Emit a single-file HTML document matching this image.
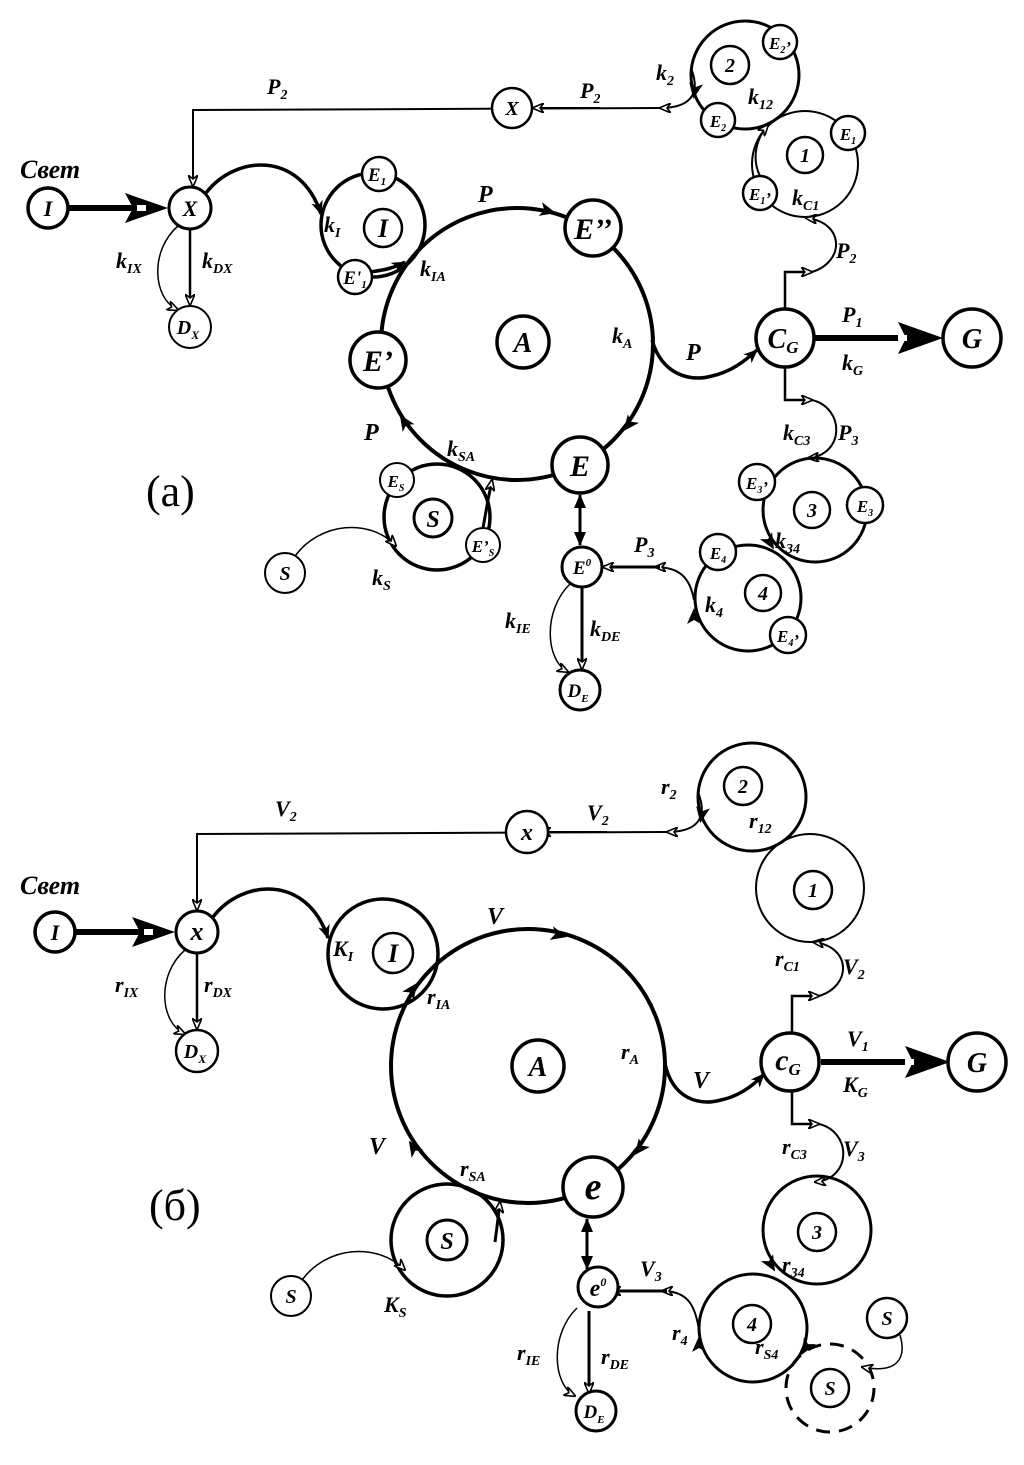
<!DOCTYPE html>
<html><head><meta charset="utf-8"><style>
html,body{margin:0;padding:0;background:#fff;}
svg{display:block;}
text{font-family:"Liberation Serif",serif;font-weight:bold;font-style:italic;fill:#000;}
.n{text-anchor:middle;}
.r{font-weight:normal;font-style:normal;}
</style></head><body>
<svg width="1024" height="1465" viewBox="0 0 1024 1465" xmlns="http://www.w3.org/2000/svg">
<defs>
<marker id="oa" viewBox="0 0 12 10" refX="11" refY="5" markerWidth="12" markerHeight="10" markerUnits="userSpaceOnUse" orient="auto"><path d="M0,0 L12,5 L0,10 L4,5 Z" fill="#fff" stroke="#000" stroke-width="1.6"/></marker>
<marker id="fa" viewBox="0 0 14 12" refX="13" refY="6" markerWidth="14" markerHeight="12" markerUnits="userSpaceOnUse" orient="auto"><path d="M0,0 L14,6 L0,12 L4,6 Z" fill="#000"/></marker>
<marker id="fs" viewBox="0 0 14 12" refX="13" refY="6" markerWidth="14" markerHeight="12" markerUnits="userSpaceOnUse" orient="auto-start-reverse"><path d="M0,0 L14,6 L0,12 Z" fill="#000"/></marker>
<g id="tri"><path d="M-12,-7 L4,0 L-12,7 L-8,0 Z" fill="#000"/></g>
</defs>

<!-- ================= (a) ================= -->
<g fill="none" stroke="#000">
<line x1="68" y1="208" x2="140" y2="208" stroke-width="6"/>
<path d="M125,193 L168,208 L125,223 L133,208 Z" fill="#000" stroke="none"/>
<rect x="137" y="205" width="9" height="6" fill="#fff" stroke="none"/>
<path d="M660,108 L193,110 L193,186" stroke-width="2" marker-end="url(#oa)"/>
<line x1="600" y1="108" x2="533" y2="108" stroke-width="2" marker-end="url(#oa)"/>
<path d="M691,68 C702,96 688,108 660,108" stroke-width="2" marker-end="url(#oa)"/>
<path d="M206,193 C235,155 300,150 321,214" stroke-width="3.5" marker-end="url(#fa)"/>
<line x1="190" y1="229" x2="190" y2="305" stroke-width="2.5" marker-end="url(#oa)"/>
<path d="M178,226 C150,250 152,298 178,310" stroke-width="1.5" marker-end="url(#oa)"/>
<circle cx="373" cy="225" r="52" stroke-width="3.5"/>
<path d="M370,272 C385,270 394,268 405,262" stroke-width="3.5" marker-end="url(#fa)"/>
<circle cx="517" cy="344" r="136" stroke-width="4"/>
<path d="M652,340 C662,375 690,382 712,376 C730,372 744,362 757,350" stroke-width="3.5" marker-end="url(#fa)"/>
<line x1="814" y1="338" x2="905" y2="338" stroke-width="6"/>
<path d="M898,322 L943,338 L898,354 L906,338 Z" fill="#000" stroke="none"/>
<rect x="898" y="335" width="9" height="6" fill="#fff" stroke="none"/>
<path d="M785,309 L785,272 L812,272" stroke-width="2.5" marker-end="url(#oa)"/>
<path d="M812,272 C845,262 845,222 806,218" stroke-width="2" marker-end="url(#oa)"/>
<path d="M785,367 L785,400 L812,400" stroke-width="2.5" marker-end="url(#oa)"/>
<path d="M812,400 C845,408 845,455 808,458" stroke-width="2" marker-end="url(#oa)"/>
<circle cx="745" cy="75" r="54" stroke-width="3"/>
<circle cx="805" cy="164" r="53" stroke-width="2"/>
<path d="M760,176 C752,160 755,140 768,125" stroke-width="2" marker-end="url(#oa)"/>
<circle cx="815" cy="510" r="52" stroke-width="3"/>
<circle cx="748" cy="598" r="53" stroke-width="3"/>
<path d="M694,600 C690,578 680,567 655,567" stroke-width="2" marker-end="url(#oa)"/>
<line x1="660" y1="567" x2="603" y2="567" stroke-width="3" marker-end="url(#oa)"/>
<line x1="580" y1="495" x2="580" y2="545" stroke-width="3" marker-start="url(#fs)" marker-end="url(#fs)"/>
<line x1="582" y1="587" x2="582" y2="669" stroke-width="3" marker-end="url(#oa)"/>
<path d="M570,584 C543,610 545,660 568,672" stroke-width="1.5" marker-end="url(#oa)"/>
<circle cx="437" cy="517" r="53" stroke-width="3.5"/>
<path d="M295,556 C320,522 370,518 396,546" stroke-width="1.5" marker-end="url(#oa)"/>
<path d="M483,528 L488,500 L492,480" stroke-width="3" marker-end="url(#oa)"/>
</g>
<use href="#tri" transform="translate(552,212) rotate(14)"/>
<use href="#tri" transform="translate(626,428) rotate(128)"/>
<use href="#tri" transform="translate(402,418) rotate(-123)"/>
<use href="#tri" transform="translate(694,95) rotate(100)"/>
<use href="#tri" transform="translate(772,546) rotate(60)"/>
<use href="#tri" transform="translate(694,612) rotate(-90)"/>

<g fill="#fff" stroke="#000">
<circle cx="48" cy="208" r="20" stroke-width="3.5"/>
<circle cx="190" cy="208" r="21" stroke-width="3"/>
<circle cx="190" cy="327" r="21" stroke-width="2"/>
<circle cx="512" cy="108" r="20" stroke-width="2.5"/>
<circle cx="379" cy="174" r="17" stroke-width="2.5"/>
<circle cx="355" cy="277" r="17" stroke-width="2.5"/>
<circle cx="383" cy="228" r="19" stroke-width="2.5"/>
<circle cx="593" cy="228" r="28" stroke-width="3.5"/>
<circle cx="378" cy="360" r="28" stroke-width="3.5"/>
<circle cx="580" cy="465" r="28" stroke-width="3.5"/>
<circle cx="523" cy="342" r="26" stroke-width="3.5"/>
<circle cx="397" cy="480" r="17" stroke-width="2"/>
<circle cx="483" cy="545" r="17" stroke-width="2"/>
<circle cx="433" cy="518" r="19" stroke-width="3"/>
<circle cx="285" cy="573" r="20" stroke-width="2"/>
<circle cx="582" cy="567" r="20" stroke-width="3"/>
<circle cx="580" cy="690" r="20" stroke-width="3"/>
<circle cx="730" cy="65" r="19" stroke-width="2.5"/>
<circle cx="780" cy="42" r="17" stroke-width="2.5"/>
<circle cx="718" cy="120" r="17" stroke-width="2.5"/>
<circle cx="805" cy="155" r="18" stroke-width="2.5"/>
<circle cx="848" cy="133" r="17" stroke-width="2.5"/>
<circle cx="760" cy="193" r="17" stroke-width="2.5"/>
<circle cx="785" cy="338" r="29" stroke-width="3.5"/>
<circle cx="972" cy="338" r="29" stroke-width="3.5"/>
<circle cx="812" cy="510" r="18" stroke-width="2.5"/>
<circle cx="757" cy="482" r="18" stroke-width="2.5"/>
<circle cx="865" cy="505" r="18" stroke-width="2.5"/>
<circle cx="763" cy="593" r="18" stroke-width="2.5"/>
<circle cx="718" cy="552" r="18" stroke-width="2.5"/>
<circle cx="788" cy="635" r="18" stroke-width="2.5"/>
</g>
<g class="n">
<text x="48" y="216" font-size="22" class="n">I</text>
<text x="190" y="216" font-size="22" class="n">X</text>
<text x="188" y="334" font-size="20" class="n">D<tspan font-size="12" dy="5">X</tspan></text>
<text x="512" y="115" font-size="20" class="n">X</text>
<text x="377" y="181" font-size="19" class="n">E<tspan font-size="11" dy="4">1</tspan></text>
<text x="355" y="284" font-size="19" class="n">E'<tspan font-size="11" dy="4">1</tspan></text>
<text x="383" y="237" font-size="26" class="n">I</text>
<text x="593" y="239" font-size="30" class="n">E’’</text>
<text x="378" y="371" font-size="30" class="n">E’</text>
<text x="580" y="476" font-size="30" class="n">E</text>
<text x="523" y="352" font-size="28" class="n">A</text>
<text x="396" y="487" font-size="17" class="n">E<tspan font-size="10" dy="4">S</tspan></text>
<text x="483" y="552" font-size="17" class="n">E’<tspan font-size="10" dy="4">S</tspan></text>
<text x="433" y="527" font-size="24" class="n">S</text>
<text x="285" y="580" font-size="20" class="n">S</text>
<text x="582" y="574" font-size="19" class="n">E<tspan font-size="11" dy="-8">0</tspan></text>
<text x="578" y="697" font-size="19" class="n">D<tspan font-size="11" dy="5">E</tspan></text>
<text x="730" y="72" font-size="20" class="n">2</text>
<text x="780" y="49" font-size="17" class="n">E<tspan font-size="10" dy="4">2</tspan>’</text>
<text x="718" y="127" font-size="17" class="n">E<tspan font-size="10" dy="4">2</tspan></text>
<text x="805" y="162" font-size="20" class="n">1</text>
<text x="848" y="140" font-size="17" class="n">E<tspan font-size="10" dy="4">1</tspan></text>
<text x="760" y="200" font-size="17" class="n">E<tspan font-size="10" dy="4">1</tspan>’</text>
<text x="783" y="348" font-size="28" class="n">C<tspan font-size="17" dy="5">G</tspan></text>
<text x="972" y="348" font-size="28" class="n">G</text>
<text x="812" y="517" font-size="20" class="n">3</text>
<text x="757" y="489" font-size="17" class="n">E<tspan font-size="10" dy="4">3</tspan>’</text>
<text x="865" y="512" font-size="17" class="n">E<tspan font-size="10" dy="4">3</tspan></text>
<text x="763" y="600" font-size="20" class="n">4</text>
<text x="718" y="559" font-size="17" class="n">E<tspan font-size="10" dy="4">4</tspan></text>
<text x="788" y="642" font-size="17" class="n">E<tspan font-size="10" dy="4">4</tspan>’</text>
</g>
<text x="20" y="178" font-size="26">Свет</text>
<text x="267" y="94" font-size="22">P<tspan font-size="14" dy="5">2</tspan></text>
<text x="580" y="98" font-size="22">P<tspan font-size="14" dy="5">2</tspan></text>
<text x="656" y="80" font-size="22">k<tspan font-size="14" dy="5">2</tspan></text>
<text x="748" y="104" font-size="22">k<tspan font-size="14" dy="5">12</tspan></text>
<text x="792" y="205" font-size="22">k<tspan font-size="14" dy="5">C1</tspan></text>
<text x="836" y="258" font-size="22">P<tspan font-size="14" dy="5">2</tspan></text>
<text x="116" y="268" font-size="22">k<tspan font-size="14" dy="5">IX</tspan></text>
<text x="202" y="268" font-size="22">k<tspan font-size="14" dy="5">DX</tspan></text>
<text x="324" y="232" font-size="22">k<tspan font-size="14" dy="5">I</tspan></text>
<text x="420" y="276" font-size="22">k<tspan font-size="14" dy="5">IA</tspan></text>
<text x="478" y="202" font-size="24">P</text>
<text x="612" y="343" font-size="22">k<tspan font-size="14" dy="5">A</tspan></text>
<text x="686" y="360" font-size="24">P</text>
<text x="842" y="322" font-size="22">P<tspan font-size="14" dy="5">1</tspan></text>
<text x="842" y="370" font-size="22">k<tspan font-size="14" dy="5">G</tspan></text>
<text x="364" y="440" font-size="24">P</text>
<text x="447" y="456" font-size="22">k<tspan font-size="14" dy="5">SA</tspan></text>
<text x="372" y="585" font-size="22">k<tspan font-size="14" dy="5">S</tspan></text>
<text x="634" y="552" font-size="22">P<tspan font-size="14" dy="5">3</tspan></text>
<text x="505" y="628" font-size="22">k<tspan font-size="14" dy="5">IE</tspan></text>
<text x="590" y="636" font-size="22">k<tspan font-size="14" dy="5">DE</tspan></text>
<text x="705" y="612" font-size="22">k<tspan font-size="14" dy="5">4</tspan></text>
<text x="775" y="548" font-size="22">k<tspan font-size="14" dy="5">34</tspan></text>
<text x="783" y="440" font-size="22">k<tspan font-size="14" dy="5">C3</tspan></text>
<text x="838" y="440" font-size="22">P<tspan font-size="14" dy="5">3</tspan></text>
<text x="146" y="506" font-size="44" class="r">(a)</text>

<!-- ================= (б) ================= -->
<g transform="translate(7,724)">
<g fill="none" stroke="#000">
<line x1="68" y1="208" x2="140" y2="208" stroke-width="6"/>
<path d="M125,193 L168,208 L125,223 L133,208 Z" fill="#000" stroke="none"/>
<rect x="137" y="205" width="9" height="6" fill="#fff" stroke="none"/>
<path d="M660,108 L190,110 L190,186" stroke-width="2" marker-end="url(#oa)"/>
<line x1="600" y1="108" x2="533" y2="108" stroke-width="2" marker-end="url(#oa)"/>
<path d="M691,68 C702,96 688,108 660,108" stroke-width="2" marker-end="url(#oa)"/>
<path d="M206,193 C235,155 300,150 321,214" stroke-width="3.5" marker-end="url(#fa)"/>
<line x1="190" y1="229" x2="190" y2="305" stroke-width="2.5" marker-end="url(#oa)"/>
<path d="M178,226 C150,250 152,298 178,310" stroke-width="1.5" marker-end="url(#oa)"/>
<circle cx="376" cy="230" r="55" stroke-width="3.5"/>
<circle cx="521" cy="342" r="137" stroke-width="4"/>
<path d="M658,340 C666,375 692,382 714,376 C732,372 746,362 757,350" stroke-width="3.5" marker-end="url(#fa)"/>
<line x1="814" y1="338" x2="905" y2="338" stroke-width="6"/>
<path d="M898,322 L943,338 L898,354 L906,338 Z" fill="#000" stroke="none"/>
<rect x="898" y="335" width="9" height="6" fill="#fff" stroke="none"/>
<path d="M785,309 L785,272 L812,272" stroke-width="2.5" marker-end="url(#oa)"/>
<path d="M812,272 C845,262 845,222 806,218" stroke-width="2" marker-end="url(#oa)"/>
<path d="M785,367 L785,400 L812,400" stroke-width="2.5" marker-end="url(#oa)"/>
<path d="M812,400 C845,408 845,455 808,458" stroke-width="2" marker-end="url(#oa)"/>
<circle cx="745" cy="73" r="54" stroke-width="3"/>
<circle cx="803" cy="164" r="54" stroke-width="2"/>
<circle cx="810" cy="506" r="54" stroke-width="3"/>
<circle cx="746" cy="604" r="54" stroke-width="3"/>
<path d="M692,606 C688,580 680,567 655,567" stroke-width="2" marker-end="url(#oa)"/>
<line x1="660" y1="567" x2="603" y2="567" stroke-width="3" marker-end="url(#oa)"/>
<line x1="580" y1="495" x2="580" y2="545" stroke-width="3" marker-start="url(#fs)" marker-end="url(#fs)"/>
<line x1="582" y1="587" x2="582" y2="669" stroke-width="3" marker-end="url(#oa)"/>
<path d="M570,584 C543,610 545,660 568,672" stroke-width="1.5" marker-end="url(#oa)"/>
<circle cx="440" cy="516" r="56" stroke-width="3.5"/>
<path d="M295,556 C320,522 370,518 398,546" stroke-width="1.5" marker-end="url(#oa)"/>
<path d="M488,518 L491,495 L493,478" stroke-width="3" marker-end="url(#oa)"/>
<circle cx="823" cy="664" r="44" stroke-width="3" stroke-dasharray="14,9"/>
<path d="M893,611 C900,635 890,650 855,643" stroke-width="1.5" marker-end="url(#oa)"/>
</g>
<use href="#tri" transform="translate(556,212) rotate(14)"/>
<use href="#tri" transform="translate(630,428) rotate(128)"/>
<use href="#tri" transform="translate(404,420) rotate(-123)"/>
<use href="#tri" transform="translate(408,262) rotate(-54)"/>
<use href="#tri" transform="translate(694,95) rotate(100)"/>
<use href="#tri" transform="translate(766,544) rotate(60)"/>
<use href="#tri" transform="translate(692,616) rotate(-90)"/>
<use href="#tri" transform="translate(797,627) rotate(120)"/>
<g fill="#fff" stroke="#000">
<circle cx="48" cy="208" r="20" stroke-width="3.5"/>
<circle cx="190" cy="208" r="21" stroke-width="3"/>
<circle cx="190" cy="327" r="21" stroke-width="2.5"/>
<circle cx="520" cy="108" r="21" stroke-width="2.5"/>
<circle cx="386" cy="229" r="20" stroke-width="2.5"/>
<circle cx="531" cy="342" r="26" stroke-width="3.5"/>
<circle cx="586" cy="463" r="30" stroke-width="3.5"/>
<circle cx="440" cy="516" r="20" stroke-width="3"/>
<circle cx="284" cy="572" r="20" stroke-width="2"/>
<circle cx="591" cy="563" r="20" stroke-width="3"/>
<circle cx="589" cy="687" r="20" stroke-width="3"/>
<circle cx="736" cy="62" r="19" stroke-width="2.5"/>
<circle cx="806" cy="166" r="19" stroke-width="2.5"/>
<circle cx="783" cy="338" r="29" stroke-width="3.5"/>
<circle cx="970" cy="338" r="29" stroke-width="3.5"/>
<circle cx="810" cy="508" r="19" stroke-width="2.5"/>
<circle cx="745" cy="600" r="19" stroke-width="2.5"/>
<circle cx="823" cy="664" r="19" stroke-width="2.5"/>
<circle cx="880" cy="594" r="20" stroke-width="2.5"/>
</g>
<text x="48" y="216" font-size="22" class="n">I</text>
<text x="190" y="216" font-size="26" class="n">x</text>
<text x="188" y="334" font-size="20" class="n">D<tspan font-size="12" dy="5">X</tspan></text>
<text x="520" y="116" font-size="24" class="n">x</text>
<text x="386" y="238" font-size="26" class="n">I</text>
<text x="531" y="352" font-size="28" class="n">A</text>
<text x="586" y="475" font-size="38" class="n">e</text>
<text x="440" y="525" font-size="24" class="n">S</text>
<text x="284" y="579" font-size="20" class="n">S</text>
<text x="591" y="572" font-size="24" class="n">e<tspan font-size="12" dy="-10">0</tspan></text>
<text x="587" y="694" font-size="19" class="n">D<tspan font-size="11" dy="5">E</tspan></text>
<text x="736" y="69" font-size="20" class="n">2</text>
<text x="806" y="173" font-size="20" class="n">1</text>
<text x="781" y="346" font-size="30" class="n">c<tspan font-size="17" dy="5">G</tspan></text>
<text x="970" y="348" font-size="28" class="n">G</text>
<text x="810" y="515" font-size="20" class="n">3</text>
<text x="745" y="607" font-size="20" class="n">4</text>
<text x="823" y="671" font-size="20" class="n">S</text>
<text x="880" y="601" font-size="20" class="n">S</text>
<text x="13" y="170" font-size="26">Свет</text>
<text x="268" y="92" font-size="22">V<tspan font-size="14" dy="5">2</tspan></text>
<text x="580" y="96" font-size="22">V<tspan font-size="14" dy="5">2</tspan></text>
<text x="654" y="70" font-size="22">r<tspan font-size="14" dy="5">2</tspan></text>
<text x="742" y="104" font-size="22">r<tspan font-size="14" dy="5">12</tspan></text>
<text x="768" y="242" font-size="22">r<tspan font-size="14" dy="5">C1</tspan></text>
<text x="836" y="250" font-size="22">V<tspan font-size="14" dy="5">2</tspan></text>
<text x="108" y="268" font-size="22">r<tspan font-size="14" dy="5">IX</tspan></text>
<text x="197" y="268" font-size="22">r<tspan font-size="14" dy="5">DX</tspan></text>
<text x="326" y="232" font-size="22">K<tspan font-size="14" dy="5">I</tspan></text>
<text x="420" y="280" font-size="22">r<tspan font-size="14" dy="5">IA</tspan></text>
<text x="480" y="200" font-size="24">V</text>
<text x="614" y="335" font-size="22">r<tspan font-size="14" dy="5">A</tspan></text>
<text x="686" y="364" font-size="24">V</text>
<text x="840" y="322" font-size="22">V<tspan font-size="14" dy="5">1</tspan></text>
<text x="836" y="368" font-size="22">K<tspan font-size="14" dy="5">G</tspan></text>
<text x="362" y="430" font-size="24">V</text>
<text x="453" y="452" font-size="22">r<tspan font-size="14" dy="5">SA</tspan></text>
<text x="377" y="588" font-size="22">K<tspan font-size="14" dy="5">S</tspan></text>
<text x="633" y="552" font-size="22">V<tspan font-size="14" dy="5">3</tspan></text>
<text x="510" y="636" font-size="22">r<tspan font-size="14" dy="5">IE</tspan></text>
<text x="594" y="640" font-size="22">r<tspan font-size="14" dy="5">DE</tspan></text>
<text x="665" y="616" font-size="22">r<tspan font-size="14" dy="5">4</tspan></text>
<text x="775" y="548" font-size="22">r<tspan font-size="14" dy="5">34</tspan></text>
<text x="748" y="630" font-size="22">r<tspan font-size="14" dy="5">S4</tspan></text>
<text x="775" y="430" font-size="22">r<tspan font-size="14" dy="5">C3</tspan></text>
<text x="836" y="432" font-size="22">V<tspan font-size="14" dy="5">3</tspan></text>
<text x="142" y="496" font-size="44" class="r">(б)</text>
</g>
</svg>
</body></html>
